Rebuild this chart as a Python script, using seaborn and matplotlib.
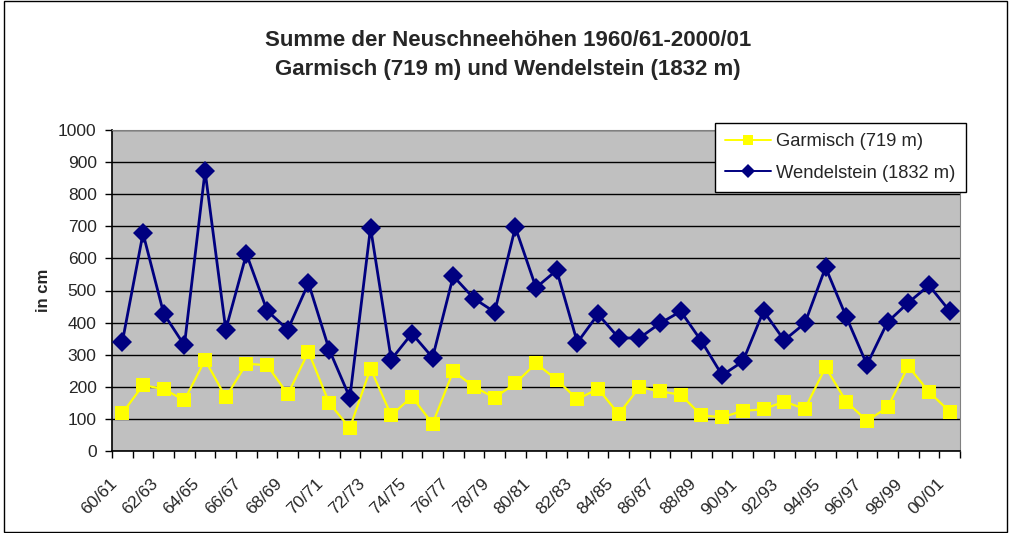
import numpy as np
import pandas as pd
import matplotlib
matplotlib.use("Agg")
import matplotlib.pyplot as plt
import seaborn as sns
from matplotlib.patches import Rectangle
from matplotlib.transforms import ScaledTranslation

# Winter 1960/61 bis 2000/01
saisons = [f"{j % 100:02d}/{(j + 1) % 100:02d}" for j in range(1960, 2001)]

# Summe der Neuschneehöhen in cm
garmisch = [118, 205, 193, 158, 284, 167, 272, 267, 177, 309, 149, 72, 257, 111,
            169, 85, 249, 200, 166, 211, 273, 222, 161, 194, 115, 199, 186, 175,
            111, 105, 125, 130, 154, 131, 261, 154, 94, 136, 264, 184, 123]
wendelstein = [340, 678, 428, 329, 872, 378, 614, 437, 378, 523, 316, 166, 696, 285,
               366, 291, 545, 475, 433, 697, 509, 563, 338, 426, 352, 352, 398, 435,
               342, 236, 279, 436, 345, 398, 572, 418, 269, 402, 462, 516, 436]

stationen = ["Garmisch (719 m)", "Wendelstein (1832 m)"]

df = pd.DataFrame({
    "pos": list(range(len(saisons))) * 2,
    "Saison": saisons * 2,
    "Station": [stationen[0]] * len(saisons) + [stationen[1]] * len(saisons),
    "cm": garmisch + wendelstein,
})

sns.set_style("white")
plt.rcParams["font.family"] = ["Liberation Sans", "DejaVu Sans"]

fig = plt.figure(figsize=(10.1, 5.33), dpi=100)
ax = fig.add_axes([112 / 1010, 1 - 451 / 533, 848 / 1010, 321 / 533])
ax.set_facecolor("#C0C0C0")

sns.lineplot(data=df, x="pos", y="cm", hue="Station", style="Station",
             palette={stationen[0]: "#FFFF00", stationen[1]: "#000080"},
             markers={stationen[0]: "s", stationen[1]: "D"}, dashes=False,
             markersize=10, markeredgewidth=0, linewidth=2, ax=ax, zorder=3)
# gelbe Linie etwas dünner
ax.lines[0].set_linewidth(1.6)

ax.set_xlim(-0.5, len(saisons) - 0.5)
ax.set_ylim(0, 1000)
ax.set_yticks(np.arange(0, 1001, 100))
ax.yaxis.grid(True, color="black", linewidth=1)
ax.set_axisbelow(True)

ax.set_xticks(np.arange(0, len(saisons), 2))
ax.set_xticklabels(saisons[::2], rotation=45, ha="right", va="center",
                   rotation_mode="anchor")
ax.set_xticks(np.arange(-0.5, len(saisons), 1), minor=True)
ax.tick_params(axis="x", which="major", length=0, pad=22, labelsize=12.5)
ax.tick_params(axis="x", which="minor", length=5, width=1, color="black",
               direction="out", bottom=True)
ax.tick_params(axis="y", length=5, width=1, color="black", direction="out",
               left=True, pad=6, labelsize=12.5)
# Beschriftungen etwas nach links schieben
verschiebung = ScaledTranslation(-8 / 100, 0, fig.dpi_scale_trans)
for lbl in ax.get_xticklabels():
    lbl.set_transform(lbl.get_transform() + verschiebung)

ax.set_xlabel("")
ax.set_ylabel("in cm", fontsize=12, fontweight="bold")
ax.yaxis.set_label_coords(-0.072, 0.5)

for s in ["top", "right"]:
    ax.spines[s].set_color("#808080")
for s in ["left", "bottom"]:
    ax.spines[s].set_color("black")
    ax.spines[s].set_linewidth(1.2)

handles, labels = ax.get_legend_handles_labels()
ax.get_legend().remove()
leg = fig.legend(handles, labels, loc="upper left",
                 bbox_to_anchor=(715 / 1010, 1 - 123 / 533), fontsize=13.2,
                 frameon=True, fancybox=False, edgecolor="black",
                 framealpha=1, handlelength=2.5, labelspacing=0.8,
                 borderpad=0.55, handletextpad=0.3, borderaxespad=0)
leg.get_frame().set_linewidth(1)
for h in leg.legend_handles:
    h.set_markersize(7.5)
    h.set_linewidth(1.4)

fig.text(508 / 1010, 1 - 40 / 533, "Summe der Neuschneehöhen 1960/61-2000/01",
         ha="center", va="center", fontsize=16, fontweight="bold")
fig.text(508 / 1010, 1 - 70 / 533, "Garmisch (719 m) und Wendelstein (1832 m)",
         ha="center", va="center", fontsize=16, fontweight="bold")

fig.patches.append(Rectangle((4 / 1010, 1 / 533), 1003 / 1010, 531 / 533,
                             transform=fig.transFigure, fill=False,
                             edgecolor="black", linewidth=1))

fig.savefig("out.png", dpi=100)
